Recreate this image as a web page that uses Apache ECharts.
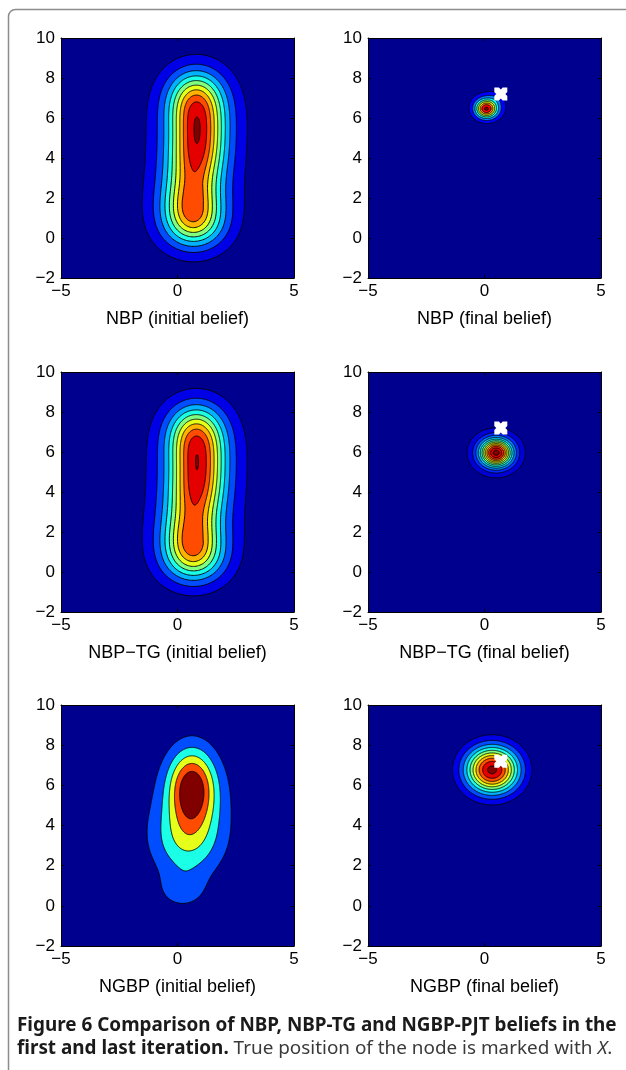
<!DOCTYPE html>
<html><head><meta charset="utf-8">
<script src="https://cdn.jsdelivr.net/npm/echarts@6/dist/echarts.min.js"></script>
<style>html,body{margin:0;padding:0;background:#fff}#c{width:626px;height:1070px}</style>
</head><body><div id="c"></div>
<script>
// ---------- data ----------
const panelTitles = ['NBP (initial belief)', 'NBP (final belief)',
  'NBP\u2212TG (initial belief)', 'NBP\u2212TG (final belief)',
  'NGBP (initial belief)', 'NGBP (final belief)'];
const xTickStep = 5, xMin = -5, xMax = 5;
const yTickStep = 2, yMin = -2, yMax = 10;

// Belief densities as Gaussian kernel mixtures (centre x, centre y, weight, sigma x, sigma y)
const nbpInitCx = [0.70, 0.62, 0.68, 0.82, 0.86, 0.85, 0.80, 0.80];
const nbpInitCy = [0.70, 1.80, 3.00, 4.10, 5.10, 6.00, 6.85, 7.60];
const nbpInitW  = [4.95, 4.50, 3.60, 4.27, 3.98, 3.40, 4.17, 1.94];
const nbpInitSx = [0.85, 0.78, 0.75, 0.75, 0.73, 0.75, 0.78, 0.80];
const nbpInitSy = [0.85, 0.85, 0.85, 0.85, 0.85, 0.85, 0.85, 0.85];
const nbpInitLevels = [1, 2, 3, 4, 5, 6, 7, 8, 9, 10];

const nbpFinalCx = [0.07, 0.15, 0.50];
const nbpFinalCy = [6.45, 6.55, 7.00];
const nbpFinalW  = [5.5, 2.8, 0.4];
const nbpFinalSx = [0.30, 0.50, 0.25];
const nbpFinalSy = [0.30, 0.50, 0.25];
const nbpFinalLevels = [1, 2, 3, 4, 5, 6, 7, 8];

const tgInitCx = [0.70, 0.62, 0.68, 0.82, 0.86, 0.85, 0.80, 0.80];
const tgInitCy = [0.70, 1.80, 3.00, 4.10, 5.10, 6.00, 6.85, 7.60];
const tgInitW  = [4.95, 4.50, 3.60, 4.27, 3.88, 3.40, 4.17, 1.94];
const tgInitSx = [0.85, 0.78, 0.75, 0.75, 0.73, 0.75, 0.78, 0.80];
const tgInitSy = [0.85, 0.85, 0.85, 0.85, 0.85, 0.85, 0.85, 0.85];
const tgInitLevels = [1, 2, 3, 4, 5, 6, 7, 8, 9, 10];

const tgFinalCx = [0.50, 0.50];
const tgFinalCy = [5.96, 5.96];
const tgFinalW  = [9.67, 2.73];
const tgFinalSx = [0.45, 0.80];
const tgFinalSy = [0.45, 0.80];
const tgFinalLevels = [1, 2, 3, 4, 5, 6, 7, 8, 9, 10, 11, 12];

const ngbpInitCx = [0.62, 0.42, 0.70, 0.20];
const ngbpInitCy = [5.90, 3.20, 5.50, 0.75];
const ngbpInitW  = [5.1, 2.6, 0.8, 1.2];
const ngbpInitSx = [0.70, 1.10, 1.80, 0.75];
const ngbpInitSy = [1.33, 1.35, 1.80, 0.70];
const ngbpInitLevels = [1, 2, 3, 4, 5];

const ngbpFinalCx = [0.33];
const ngbpFinalCy = [6.77];
const ngbpFinalW  = [10.3];
const ngbpFinalSx = [0.79];
const ngbpFinalSy = [0.81];
const ngbpFinalLevels = [1, 2, 3, 4, 5, 6, 7, 8, 9, 10];

// kernel tail (fraction, width factor) per panel
const panelTailFrac  = [0.22, 0, 0.22, 0, 0, 0];
const panelTailScale = [1.8, 1, 1.8, 1, 1, 1];

// true node position (white X)
const trueNodeX = [0.7];
const trueNodeY = [7.2];

// ---------- build ----------
function comps(cx, cy, w, sx, sy) {
  return cx.map((x, i) => ({x: x, y: cy[i], w: w[i], sx: sx[i], sy: sy[i]}));
}
const panels = [
  {c: comps(nbpInitCx, nbpInitCy, nbpInitW, nbpInitSx, nbpInitSy), L: nbpInitLevels},
  {c: comps(nbpFinalCx, nbpFinalCy, nbpFinalW, nbpFinalSx, nbpFinalSy), L: nbpFinalLevels},
  {c: comps(tgInitCx, tgInitCy, tgInitW, tgInitSx, tgInitSy), L: tgInitLevels},
  {c: comps(tgFinalCx, tgFinalCy, tgFinalW, tgFinalSx, tgFinalSy), L: tgFinalLevels},
  {c: comps(ngbpInitCx, ngbpInitCy, ngbpInitW, ngbpInitSx, ngbpInitSy), L: ngbpInitLevels},
  {c: comps(ngbpFinalCx, ngbpFinalCy, ngbpFinalW, ngbpFinalSx, ngbpFinalSy), L: ngbpFinalLevels}
];

function field(p, x, y) {
  const cs = panels[p].c, tf = panelTailFrac[p], ts = panelTailScale[p];
  let s = 0;
  for (let i = 0; i < cs.length; i++) {
    const c = cs[i], dx = x - c.x, dy = y - c.y;
    const qx = dx * dx / (2 * c.sx * c.sx), qy = dy * dy / (2 * c.sy * c.sy);
    let g = Math.exp(-(qx + qy));
    if (tf > 0) g = (1 - tf) * g + tf * Math.exp(-(qx + qy) / (ts * ts));
    s += c.w * g;
  }
  return s;
}

function jet(t) {
  const cl = v => Math.max(0, Math.min(1, v));
  const r = cl(1.5 - Math.abs(4 * t - 3)), g = cl(1.5 - Math.abs(4 * t - 2)), b = cl(1.5 - Math.abs(4 * t - 1));
  return 'rgb(' + Math.round(r * 255) + ',' + Math.round(g * 255) + ',' + Math.round(b * 255) + ')';
}

function contours(p) {
  const levels = panels[p].L;
  let best = -1, cx = 0, cy = 0;
  for (let x = xMin; x <= xMax; x += 0.05)
    for (let y = yMin; y <= yMax; y += 0.05) {
      const v = field(p, x, y);
      if (v > best) { best = v; cx = x; cy = y; }
    }
  const M = 600, step = 0.02;
  const polys = levels.map(() => []);
  const inside = (x, y) => x >= xMin && x <= xMax && y >= yMin && y <= yMax;
  for (let j = 0; j < M; j++) {
    const a = 2 * Math.PI * j / M, ux = Math.cos(a), uy = Math.sin(a);
    let r = 0;
    for (let k = levels.length - 1; k >= 0; k--) {
      const L = levels[k];
      if (best <= L) continue;
      while (inside(cx + r * ux, cy + r * uy) && field(p, cx + r * ux, cy + r * uy) >= L) r += step;
      let lo = Math.max(0, r - step), hi = r;
      for (let it = 0; it < 14; it++) {
        const m = (lo + hi) / 2;
        if (field(p, cx + m * ux, cy + m * uy) >= L) lo = m; else hi = m;
      }
      const rr = (lo + hi) / 2;
      polys[k].push([cx + rr * ux, cy + rr * uy]);
      r = rr;
    }
  }
  const N = levels.length;
  return polys.map((pts, k) => pts.length ? {pts: pts, color: jet((k + 1) / N)} : null);
}

const allContours = panels.map((_, p) => contours(p));

// ---------- chart ----------
const gridPos = [[61, 38, 240], [368, 38, 240], [61, 372, 240], [368, 372, 240], [61, 705, 241], [368, 705, 241]];
const bg = '#00008F';
const fontFam = 'Liberation Sans, Arial, Helvetica, sans-serif';
const minusFmt = v => String(v).replace('-', '\u2212');

const grids = [], xAxes = [], yAxes = [], series = [];
gridPos.forEach((g, p) => {
  grids.push({left: g[0], top: g[1], width: 233, height: g[2], show: true, backgroundColor: bg, borderWidth: 0});
  const common = {
    gridIndex: p, type: 'value', z: 10,
    axisLine: {show: true, onZero: false, lineStyle: {color: '#000', width: 1}},
    axisTick: {show: true, inside: true, length: 3, lineStyle: {color: '#000', width: 1}},
    splitLine: {show: false}
  };
  xAxes.push(Object.assign({}, common, {
    min: xMin, max: xMax, interval: xTickStep, position: 'bottom',
    axisLabel: {formatter: minusFmt, color: '#000', fontSize: 17, fontFamily: fontFam, margin: 5, showMinLabel: true, showMaxLabel: true},
    name: panelTitles[p], nameLocation: 'middle', nameGap: 32,
    nameTextStyle: {color: '#000', fontSize: 18, fontFamily: fontFam}
  }));
  xAxes.push(Object.assign({}, common, {
    min: xMin, max: xMax, interval: xTickStep, position: 'top', axisLabel: {show: false}
  }));
  yAxes.push(Object.assign({}, common, {
    min: yMin, max: yMax, interval: yTickStep, position: 'left',
    axisLabel: {formatter: minusFmt, color: '#000', fontSize: 17, fontFamily: fontFam, margin: 6, showMinLabel: true, showMaxLabel: true}
  }));
  yAxes.push(Object.assign({}, common, {
    min: yMin, max: yMax, interval: yTickStep, position: 'right', axisLabel: {show: false}
  }));
  const cs = allContours[p];
  series.push({
    type: 'custom', xAxisIndex: 2 * p, yAxisIndex: 2 * p, data: [[0, 0]], clip: true, silent: true, z: 2,
    renderItem: function (params, api) {
      const children = [];
      cs.forEach(c => {
        if (!c) return;
        children.push({
          type: 'polygon',
          shape: {points: c.pts.map(q => api.coord(q))},
          style: {fill: c.color, stroke: '#000', lineWidth: 0.9}
        });
      });
      return {type: 'group', children: children};
    }
  });
  if (p % 2 === 1) {
    series.push({
      type: 'scatter', xAxisIndex: 2 * p, yAxisIndex: 2 * p, z: 5, silent: true,
      data: trueNodeX.map((x, i) => [x, trueNodeY[i]]),
      symbol: 'path://M0,0 L3.5,0 L5,1.5 L6.5,0 L10,0 L10,3.5 L8.5,5 L10,6.5 L10,10 L6.5,10 L5,8.5 L3.5,10 L0,10 L0,6.5 L1.5,5 L0,3.5 Z',
      symbolSize: 13, itemStyle: {color: '#ffffff', opacity: 1}
    });
  }
});

const chart = echarts.init(document.getElementById('c'), null, {renderer: 'canvas'});
chart.setOption({
  animation: false,
  backgroundColor: '#fff',
  graphic: [{
    type: 'rect', silent: true, z: -1,
    shape: {x: 8.5, y: 9.5, width: 800, height: 1200, r: 7},
    style: {fill: 'transparent', stroke: '#8c8c8c', lineWidth: 1.5}
  }],
  title: {
    left: 17, top: 1014, padding: 0,
    text: '{b|Figure 6 Comparison of NBP, NBP-TG and NGBP-PJT beliefs in the}\n{b|first and last iteration.}{r| True position of the node is marked with }{i|X}{r|.}',
    textStyle: {
      fontWeight: 'normal',
      rich: {
        b: {fontFamily: 'Noto Sans', fontWeight: 'bold', fontSize: 18.9, color: '#1a1a1a', lineHeight: 23},
        r: {fontFamily: 'Noto Sans', fontWeight: 'normal', fontSize: 18.9, color: '#3a3a3a', lineHeight: 23},
        i: {fontFamily: 'Noto Sans', fontWeight: 'normal', fontStyle: 'italic', fontSize: 18.9, color: '#3a3a3a', lineHeight: 23}
      }
    }
  },
  grid: grids, xAxis: xAxes, yAxis: yAxes, series: series
});
</script></body></html>
